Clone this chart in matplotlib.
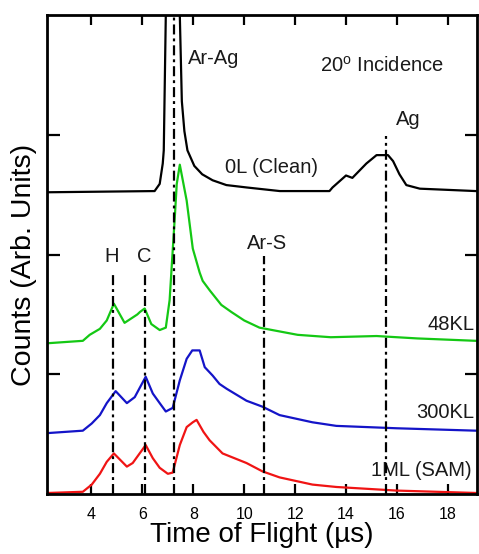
import matplotlib
matplotlib.use("Agg")
import matplotlib.pyplot as plt

plt.rcParams['font.family'] = ['Liberation Sans', 'DejaVu Sans']
plt.rcParams['mathtext.fontset'] = 'custom'
plt.rcParams['mathtext.rm'] = 'Liberation Sans'
plt.rcParams['mathtext.it'] = 'Liberation Sans'

# ---- data ----
clean_x = [2.29, 6.48, 6.68, 6.80, 6.84, 6.92, 7.05, 7.35, 7.47, 7.55, 7.65, 7.77, 8.04, 8.35,
           8.76, 9.3, 10.1, 11.4, 13.35, 13.47, 14.0, 14.25, 14.8, 15.2, 15.65, 15.85, 16.1,
           16.37, 16.9, 19.1]
clean_y = [2.52, 2.53, 2.59, 2.76, 2.87, 4.0, 5.2, 5.2, 4.0, 3.28, 3.03, 2.87, 2.74, 2.67,
           2.62, 2.58, 2.56, 2.53, 2.53, 2.56, 2.66, 2.64, 2.76, 2.83, 2.83, 2.78, 2.67,
           2.58, 2.55, 2.53]

kl48_x = [2.29, 3.66, 3.93, 4.33, 4.60, 4.88, 5.30, 5.80, 5.90, 6.09, 6.35, 6.68, 6.92, 7.07,
          7.19, 7.27, 7.35, 7.47, 7.74, 7.98, 8.25, 8.37, 8.65, 9.1, 9.5, 10.0, 10.6, 10.85,
          12.1, 13.4, 15.2, 16.8, 19.1]
kl48_y = [1.26, 1.28, 1.33, 1.38, 1.45, 1.59, 1.43, 1.50, 1.52, 1.55, 1.42, 1.37, 1.39, 1.62,
          2.03, 2.30, 2.59, 2.75, 2.45, 2.05, 1.85, 1.78, 1.70, 1.58, 1.52, 1.45, 1.39, 1.38,
          1.33, 1.31, 1.32, 1.30, 1.28]

kl300_x = [2.29, 3.66, 4.01, 4.33, 4.60, 4.95, 5.39, 5.70, 6.13, 6.41, 6.68, 6.92, 7.19, 7.47,
           7.74, 7.96, 8.25, 8.45, 8.76, 9.03, 9.31, 10.09, 10.72, 11.39, 12.68, 13.62, 16.0, 19.1]
kl300_y = [0.51, 0.53, 0.59, 0.66, 0.76, 0.86, 0.76, 0.81, 0.98, 0.84, 0.76, 0.69, 0.72, 0.95,
           1.13, 1.20, 1.20, 1.06, 0.99, 0.92, 0.88, 0.78, 0.73, 0.66, 0.60, 0.57, 0.55, 0.53]

sam_x = [2.29, 3.66, 4.01, 4.33, 4.60, 4.88, 5.39, 5.62, 6.13, 6.41, 6.68, 7.0, 7.19, 7.47,
         7.74, 7.98, 8.13, 8.40, 8.64, 9.15, 10.09, 10.72, 11.39, 12.68, 13.62, 15.98, 19.11]
sam_y = [0.01, 0.02, 0.08, 0.17, 0.27, 0.34, 0.23, 0.26, 0.41, 0.30, 0.22, 0.17, 0.18, 0.41,
         0.56, 0.60, 0.62, 0.52, 0.45, 0.34, 0.26, 0.19, 0.14, 0.08, 0.06, 0.03, 0.01]

marker_x = [4.84, 6.09, 7.23, 10.76, 15.58]
marker_top = [1.85, 1.85, 4.0, 1.99, 2.99]

x_ticks = [4, 6, 8, 10, 12, 14, 16, 18]
y_ticks = [1, 2, 3]

# ---- figure ----
fig = plt.figure(figsize=(4.79, 5.54), dpi=100)
ax = fig.add_axes([0.098, 0.108, 0.898, 0.865])

lw = 1.6
ax.plot(clean_x, clean_y, color='black', lw=lw)
ax.plot(kl48_x, kl48_y, color='#14c814', lw=lw)
ax.plot(kl300_x, kl300_y, color='#1414c8', lw=lw)
ax.plot(sam_x, sam_y, color='#f01414', lw=lw)

for mx, mt in zip(marker_x, marker_top):
    ax.plot([mx, mx], [0, mt], color='black', lw=1.6,
            linestyle=(0, (4.5, 1.8, 1.3, 1.8)), zorder=5)

ax.set_xlim(2.25, 19.15)
ax.set_ylim(0, 4)
ax.set_xticks(x_ticks)
ax.set_yticks(y_ticks)
ax.set_yticklabels([])
ax.tick_params(axis='x', direction='in', top=True, length=7, width=1.6,
               labelsize=11.5, pad=9)
ax.tick_params(axis='y', direction='in', right=True, length=9, width=1.6)
for s in ax.spines.values():
    s.set_linewidth(2)

ax.set_xlabel('Time of Flight (µs)', fontsize=20, labelpad=0)
ax.set_ylabel('Counts (Arb. Units)', fontsize=20.5)
ax.yaxis.set_label_coords(-0.022, 0.478)

fs = 14.5
tc = '#1a1a1a'
ax.text(7.78, 3.64, 'Ar-Ag', fontsize=fs, color=tc, ha='left', va='center')
ax.text(12.96, 3.58, r'20$^{\mathrm{o}}$ Incidence', fontsize=fs, color=tc, ha='left', va='center')
ax.text(15.97, 3.13, 'Ag', fontsize=fs, color=tc, ha='left', va='center')
ax.text(9.23, 2.73, '0L (Clean)', fontsize=fs, color=tc, ha='left', va='center')
ax.text(10.09, 2.09, 'Ar-S', fontsize=fs, color=tc, ha='left', va='center')
ax.text(4.78, 1.98, 'H', fontsize=fs, color=tc, ha='center', va='center')
ax.text(6.09, 1.98, 'C', fontsize=fs, color=tc, ha='center', va='center')
ax.text(19.03, 1.42, '48KL', fontsize=fs, color=tc, ha='right', va='center')
ax.text(19.03, 0.68, '300KL', fontsize=fs, color=tc, ha='right', va='center')
ax.text(18.92, 0.20, '1ML (SAM)', fontsize=fs, color=tc, ha='right', va='center')

fig.savefig('out.png', dpi=100)
